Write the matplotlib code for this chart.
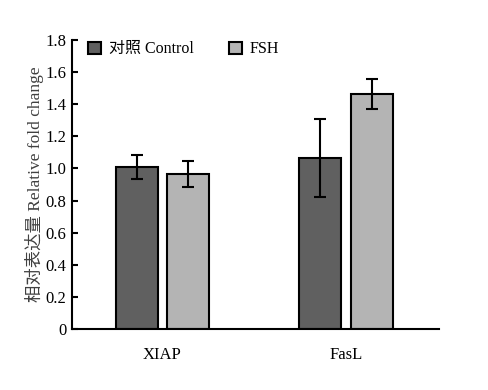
import matplotlib
matplotlib.use("Agg")
import matplotlib.pyplot as plt
import numpy as np

categories = ["XIAP", "FasL"]
series_names = ["对照 Control", "FSH"]
control = [1.01, 1.065]
control_err = [0.075, 0.245]
fsh = [0.966, 1.464]
fsh_err = [0.08, 0.095]
yticks = [0, 0.2, 0.4, 0.6, 0.8, 1.0, 1.2, 1.4, 1.6, 1.8]
yticklabels = ["0", "0.2", "0.4", "0.6", "0.8", "1.0", "1.2", "1.4", "1.6", "1.8"]

fam = ["Liberation Serif", "Noto Sans CJK SC"]
plt.rcParams['font.family'] = fam
plt.rcParams['font.size'] = 12

fig = plt.figure(figsize=(4.89, 3.90), dpi=100)
ax = fig.add_axes([72/489, 61/390, (439-72)/489, (329-40)/390])

x = np.arange(len(categories))
w = 0.229
off = 0.14
ax.bar(x - off, control, w, color="#606060", edgecolor="black", linewidth=1.5,
       label=series_names[0], zorder=2)
ax.bar(x + off, fsh, w, color="#b4b4b4", edgecolor="black", linewidth=1.5,
       label=series_names[1], zorder=2)
ax.errorbar(x - off, control, yerr=control_err, fmt="none", ecolor="black",
            elinewidth=1.5, capsize=4, capthick=1.5, zorder=3)
ax.errorbar(x + off, fsh, yerr=fsh_err, fmt="none", ecolor="black",
            elinewidth=1.5, capsize=4, capthick=1.5, zorder=3)

ax.set_xlim(-0.493, 1.507)
ax.set_ylim(0, 1.8)
ax.set_yticks(yticks)
ax.set_yticklabels(yticklabels)
ax.set_xticks(x)
ax.set_xticklabels(categories)
ax.tick_params(axis="x", length=0, pad=13, labelsize=12)
ax.tick_params(axis="y", direction="in", length=4, width=1.5, pad=4, labelsize=12)
for s in ["top", "right"]:
    ax.spines[s].set_visible(False)
for s in ["left", "bottom"]:
    ax.spines[s].set_linewidth(1.5)

ax.set_ylabel("相对表达量 Relative fold change", color="#404040", labelpad=1, fontsize=12.5)

leg = ax.legend(loc="upper left", ncol=2, frameon=False, handlelength=0.8,
                handleheight=0.8, columnspacing=2.2, handletextpad=0.5,
                bbox_to_anchor=(0.005, 1.045), fontsize=11.5)

fig.savefig("out.png", dpi=100)
